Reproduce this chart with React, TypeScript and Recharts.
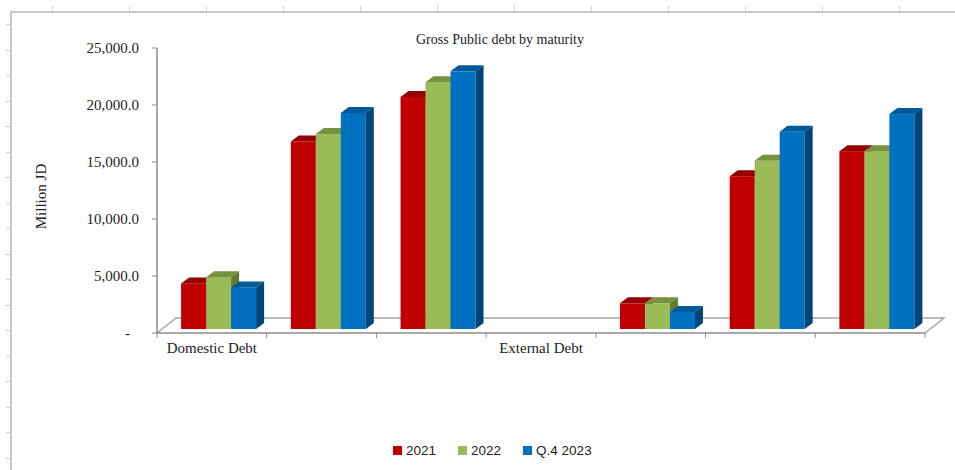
import React from 'react';
import { BarChart, Bar, XAxis, YAxis } from 'recharts';

// chart data
const CATEGORIES = ['Domestic Debt', '', '', 'External Debt', '', '', ''];
const V2021 = [4000, 16450, 20350, null, 2250, 13400, 15600];
const V2022 = [4550, 17100, 21650, null, 2250, 14750, 15600];
const VQ4_2023 = [3650, 18950, 22600, null, 1500, 17300, 18850];
const Y_TICKS = [0, 5000, 10000, 15000, 20000, 25000];

const SERIES = [
  { key: 'y2021', name: '2021', values: V2021, fill: '#C00000', top: '#960000', side: '#7A0000' },
  { key: 'y2022', name: '2022', values: V2022, fill: '#9BBB59', top: '#76923C', side: '#627A32' },
  { key: 'q42023', name: 'Q.4 2023', values: VQ4_2023, fill: '#0070C0', top: '#005A9A', side: '#00467A' },
];

const data = CATEGORIES.map((label, i) => {
  const row: Record<string, any> = { key: 'c' + i, label };
  SERIES.forEach(s => { row[s.key] = s.values[i]; });
  return row;
});

// layout
const W = 955;
const H = 470;
const MARGIN = { top: 48, right: 30, left: 0, bottom: 107 };
const Y_AXIS_W = 157;
const X_AXIS_H = 30;
const PLOT_L = MARGIN.left + Y_AXIS_W;
const PLOT_R = W - MARGIN.right;
const PLOT_B = H - MARGIN.bottom - X_AXIS_H;
const BAND = (PLOT_R - PLOT_L) / CATEGORIES.length;

// fake 3d
const SHIFT_X = 6;
const SHIFT_Y = 4;
const DX = 8;
const DY = 6;
const FLOOR_DX = 19;
const FLOOR_DY = 15;

const SERIF = '"Liberation Serif", "Times New Roman", serif';
const AXIS_GRAY = '#8C8C8C';
const FLOOR_GRAY = '#A6A6A6';

const Bar3D = (props: any) => {
  const { x, y, width, height, fill, top, side } = props;
  if (x == null || y == null || !height || height <= 0) return null;
  const fx = x + SHIFT_X;
  const fy = y - SHIFT_Y;
  return (
    <g>
      <rect x={fx} y={fy} width={width} height={height} fill={fill} />
      <polygon
        points={`${fx},${fy} ${fx + DX},${fy - DY} ${fx + width + DX},${fy - DY} ${fx + width},${fy}`}
        fill={top}
      />
      <polygon
        points={`${fx + width},${fy} ${fx + width + DX},${fy - DY} ${fx + width + DX},${fy + height - DY} ${fx + width},${fy + height}`}
        fill={side}
      />
    </g>
  );
};

const formatY = (v: number) =>
  v.toLocaleString('en-US', { minimumFractionDigits: 1, maximumFractionDigits: 1 });

const YTick = (props: any) => {
  const { x, y, payload } = props;
  const isZero = payload.value === 0;
  return (
    <text
      x={isZero ? x - 9 : x}
      y={y}
      dy={5}
      textAnchor="end"
      fontFamily={SERIF}
      fontSize={15}
      fill="#222"
    >
      {isZero ? '-' : formatY(payload.value)}
    </text>
  );
};

const XTick = (props: any) => {
  const { x, y, index } = props;
  return (
    <text x={x} y={y} dy={12} textAnchor="middle" fontFamily={SERIF} fontSize={15} fill="#222">
      {CATEGORIES[index]}
    </text>
  );
};

const Floor = () => {
  const boundaries = CATEGORIES.map((_, i) => PLOT_L + i * BAND).concat([PLOT_R]);
  return (
    <svg width={W} height={H} style={{ position: 'absolute', left: 0, top: 0 }}>
      <polyline
        points={`${PLOT_L},${PLOT_B} ${PLOT_L + FLOOR_DX},${PLOT_B - FLOOR_DY} ${PLOT_R + FLOOR_DX},${PLOT_B - FLOOR_DY} ${PLOT_R},${PLOT_B}`}
        fill="none"
        stroke={FLOOR_GRAY}
        strokeWidth={1.5}
      />
      {boundaries.map((bx, i) => (
        <line key={i} x1={bx} x2={bx} y1={PLOT_B} y2={PLOT_B + 5} stroke={AXIS_GRAY} />
      ))}
    </svg>
  );
};

export default function App() {
  return (
    <div
      style={{
        position: 'absolute',
        left: 0,
        top: 0,
        width: W,
        height: H,
        background: '#fff',
        overflow: 'hidden',
      }}
    >
      {/* sheet border round the chart object */}
      <div
        style={{
          position: 'absolute',
          left: 10,
          top: 11,
          width: W,
          height: H,
          borderLeft: '2px solid #C8C8C8',
          borderTop: '2px solid #C8C8C8',
        }}
      />
      <div
        style={{
          position: 'absolute',
          left: 0,
          top: 6,
          width: W,
          height: 5,
          backgroundImage:
            'repeating-linear-gradient(to right, transparent 0px, transparent 52px, #D0D0D0 52px, #D0D0D0 53px, transparent 53px, transparent 77px)',
          backgroundPosition: '0 0',
        }}
      />
      <div
        style={{
          position: 'absolute',
          left: 6,
          top: 0,
          width: 4,
          height: H,
          backgroundImage:
            'repeating-linear-gradient(to bottom, transparent 0px, transparent 24.5px, #D0D0D0 24.5px, #D0D0D0 25.5px)',
          backgroundPosition: '0 0',
        }}
      />

      <Floor />

      <div
        style={{
          position: 'absolute',
          left: 0,
          top: 32,
          width: 1000,
          textAlign: 'center',
          fontFamily: SERIF,
          fontSize: 14,
          color: '#222',
        }}
      >
        Gross Public debt by maturity
      </div>

      <div style={{ position: 'absolute', left: 0, top: 0 }}>
        <BarChart
          width={W}
          height={H}
          data={data}
          margin={MARGIN}
          barCategoryGap="16.5%"
          barGap={0}
        >
          <XAxis
            dataKey="key"
            height={X_AXIS_H}
            axisLine={{ stroke: AXIS_GRAY, strokeWidth: 1.5 }}
            tickLine={false}
            tick={<XTick />}
            interval={0}
          />
          <YAxis
            width={Y_AXIS_W}
            domain={[0, 25000]}
            ticks={Y_TICKS}
            allowDataOverflow
            axisLine={{ stroke: AXIS_GRAY, strokeWidth: 1.5 }}
            tickLine={{ stroke: AXIS_GRAY }}
            tickSize={5}
            tickMargin={13}
            tick={<YTick />}
            label={{
              content: (p: any) => {
                const vb = p.viewBox || {};
                const cx = 41;
                const cy = (vb.y || MARGIN.top) + (vb.height || 0) / 2 + 6;
                return (
                  <text
                    x={cx}
                    y={cy}
                    transform={`rotate(-90 ${cx} ${cy})`}
                    textAnchor="middle"
                    dominantBaseline="central"
                    fontFamily={SERIF}
                    fontSize={15}
                    fill="#222"
                  >
                    Million JD
                  </text>
                );
              },
            }}
          />
          {SERIES.map(s => (
            <Bar
              key={s.key}
              dataKey={s.key}
              name={s.name}
              fill={s.fill}
              isAnimationActive={false}
              shape={(p: any) => <Bar3D {...p} fill={s.fill} top={s.top} side={s.side} />}
            />
          ))}
        </BarChart>
      </div>

      {/* legend */}
      <div
        style={{
          position: 'absolute',
          left: 393,
          top: 443,
          display: 'flex',
          alignItems: 'center',
          fontFamily: '"Liberation Sans", Arial, sans-serif',
          fontSize: 13.5,
          color: '#222',
        }}
      >
        {SERIES.map(s => (
          <div key={s.key} style={{ display: 'flex', alignItems: 'center', marginRight: 22 }}>
            <span style={{ width: 9, height: 9, background: s.fill, marginRight: 4, display: 'inline-block' }} />
            <span>{s.name}</span>
          </div>
        ))}
      </div>
    </div>
  );
}
